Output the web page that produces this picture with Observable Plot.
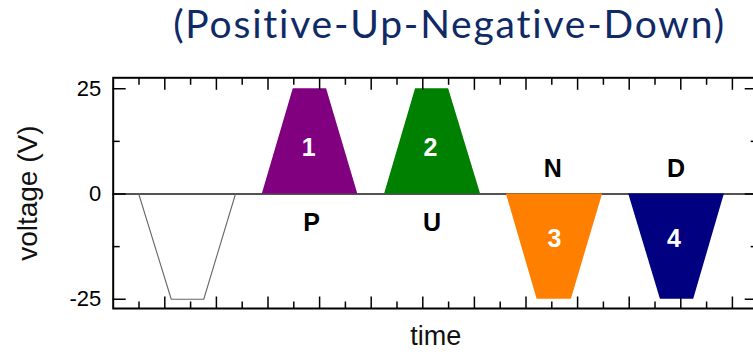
<!DOCTYPE html>
<html><head><meta charset="utf-8">
<script src="https://cdn.jsdelivr.net/npm/d3@7"></script>
<script src="https://cdn.jsdelivr.net/npm/@observablehq/plot@0.6"></script>
<style>
body{margin:0;background:#fff;overflow:hidden;}
#title{height:60px;width:753px;box-sizing:border-box;padding-left:146px;text-align:center;font-family:Lato;font-size:39px;letter-spacing:1.8px;color:#0f2a66;line-height:46px;white-space:nowrap;}
</style></head><body>
<div id="title">(Positive-Up-Negative-Down)</div>
<div id="chart"></div>
<script>
// pulse vertices (time units, voltage V)
const pulseNames = ["pre", "1", "2", "3", "4"];
const pulseTimes = [
  [0.99, 2.25, 3.51, 4.74],
  [5.78, 6.98, 8.27, 9.48],
  [10.52, 11.72, 13.0, 14.24],
  [15.24, 16.43, 17.76, 18.97],
  [19.98, 21.21, 22.5, 23.69]
];
const pulseVolts = [
  [0, -25, -25, 0],
  [0, 25, 25, 0],
  [0, 25, 25, 0],
  [0, -25, -25, 0],
  [0, -25, -25, 0]
];
const pulseColors = ["none", "#800080", "#008000", "#ff8000", "#000080"];

const numberLabels = ["1", "2", "3", "4"];
const numberTimes = [7.58, 12.3, 17.1, 21.73];
const numberVolts = [11.0, 11.0, -10.8, -10.8];

const letterLabels = ["P", "U", "N", "D"];
const letterTimes = [7.69, 12.36, 17.04, 21.82];
const letterVolts = [-6.8, -6.8, 5.9, 5.9];

const xMajorTicks = [2, 4, 6, 8, 10, 12, 14, 16, 18, 20, 22, 24];
const xMinorTicks = [1, 3, 5, 7, 9, 11, 13, 15, 17, 19, 21, 23];
const yMajorTicks = [-25, 0, 25];
const yMinorTicks = [-12.5, 12.5];
const yTickLabels = ["-25", "0", "25"];

const rows = [];
pulseNames.forEach((p, i) => pulseTimes[i].forEach((t, j) => rows.push({pulse: p, t, v: pulseVolts[i][j]})));
const filled = rows.filter(d => d.pulse !== "pre");
const outline = rows.filter(d => d.pulse === "pre");
const numbers = numberLabels.map((s, i) => ({s, t: numberTimes[i], v: numberVolts[i]}));
const letters = letterLabels.map((s, i) => ({s, t: letterTimes[i], v: letterVolts[i]}));

const W = 753, H = 298, mL = 112.7, mR = -4.7, mT = 17.3, mB = 50;
const fw = W - mL - mR, fh = H - mT - mB;

const chart = Plot.plot({
  width: W, height: H,
  marginLeft: mL, marginRight: mR, marginTop: mT, marginBottom: mB,
  style: {fontFamily: "Liberation Sans, Arial, sans-serif", background: "white", color: "black"},
  x: {domain: [0, 25], axis: null},
  y: {domain: [-27.2, 27.6], axis: null},
  color: {domain: pulseNames.slice(1), range: pulseColors.slice(1)},
  marks: [
    Plot.ruleY([0], {stroke: "#1a1a1a", strokeWidth: 1.6}),
    Plot.areaY(filled, {x: "t", y1: 0, y2: "v", z: "pulse", fill: "pulse"}),
    Plot.line(outline, {x: "t", y: "v", stroke: "#666", strokeWidth: 1.1}),
    // top & bottom ticks
    Plot.tickX(xMajorTicks, {x: d => d, insetBottom: fh - 12.5, stroke: "black", strokeWidth: 1.5}),
    Plot.tickX(xMinorTicks, {x: d => d, insetBottom: fh - 7.5, stroke: "black", strokeWidth: 1.5}),
    Plot.tickX(xMajorTicks, {x: d => d, insetTop: fh - 11.5, stroke: "black", strokeWidth: 1.5}),
    Plot.tickX(xMinorTicks, {x: d => d, insetTop: fh - 6.5, stroke: "black", strokeWidth: 1.5}),
    // left & right ticks
    Plot.tickY(yMajorTicks, {y: d => d, insetRight: fw - 13, stroke: "black", strokeWidth: 1.5}),
    Plot.tickY(yMinorTicks, {y: d => d, insetRight: fw - 7, stroke: "black", strokeWidth: 1.5}),
    Plot.tickY(yMajorTicks, {y: d => d, insetLeft: fw - 13, stroke: "black", strokeWidth: 1.5}),
    Plot.tickY(yMinorTicks, {y: d => d, insetLeft: fw - 7, stroke: "black", strokeWidth: 1.5}),
    Plot.axisY({ticks: yMajorTicks, tickSize: 0, tickPadding: 12, fontSize: 22, label: null,
      tickFormat: d => yTickLabels[yMajorTicks.indexOf(d)]}),
    Plot.frame({stroke: "black", strokeWidth: 2}),
    Plot.text(numbers, {x: "t", y: "v", text: "s", fill: "white", fontWeight: "bold", fontSize: 25}),
    Plot.text(letters, {x: "t", y: "v", text: "s", fill: "black", fontWeight: "bold", fontSize: 25}),
    Plot.text(["voltage (V)"], {frameAnchor: "left", dx: -84.7, rotate: -90, textAnchor: "middle", lineAnchor: "middle", fontSize: 28, fill: "#111"}),
    Plot.text(["time"], {frameAnchor: "bottom", dy: 36.4, fontSize: 27, fill: "#111"})
  ]
});
document.getElementById("chart").appendChild(chart);
</script>
</body></html>
